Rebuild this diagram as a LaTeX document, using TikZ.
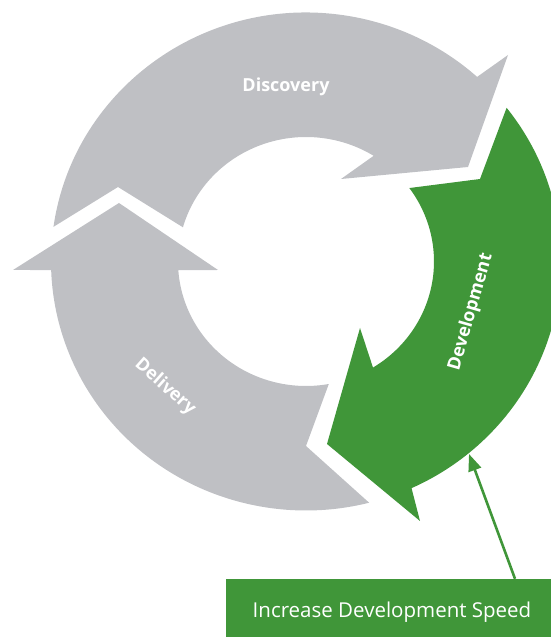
\documentclass[tikz,border=0pt]{standalone}
\usepackage{fontspec}
\setmainfont{Open Sans}
\usetikzlibrary{arrows.meta}

\definecolor{ringgray}{RGB}{191,192,196}
\definecolor{devgreen}{RGB}{64,150,57}

\begin{document}
\begin{tikzpicture}[
  x=1pt, y=1pt,
  graypart/.style={
        fill=ringgray
  },
  greenpart/.style={
        fill=devgreen
  },
  phaselabel/.style={
        text=white,
        font=\fontsize{18}{20}\selectfont\bfseries
  },
  goalbox/.style={
        fill=devgreen,
        text=white,
        inner sep=0pt,
        minimum width=332pt,
        minimum height=66pt,
        font=\fontsize{20.5}{24}\selectfont
  },
  goalarrow/.style={
        draw=devgreen,
        line width=2.6pt,
        -{Triangle[length=17pt,width=13pt]}
  }
]

    \useasboundingbox (0,0) rectangle (551,637);
    \clip (0,0) rectangle (551,637);

    \coordinate (C) at (306,375.5);

    \begin{scope}[shift={(C)}]
      % Discovery
      \path[graypart] (172:255 and 249)
        arc[start angle=172, end angle=47.85, x radius=255, y radius=249]
        -- (202,206.5) -- (162,94.5) -- (35,82.5)
        -- (58.1:128 and 124.5)
        arc[start angle=58.1, end angle=164.05, x radius=128, y radius=124.5]
        -- (-188,74.5) -- cycle;

      % Development
      \path[greenpart] (38.12:255 and 249)
        arc[start angle=38.12, end angle=-65.55, x radius=255, y radius=249]
        -- (114,-259.5) -- (21,-182.5) -- (54,-66.5)
        -- (-58.44:128 and 124.5)
        arc[start angle=-58.44, end angle=36.16, x radius=128, y radius=124.5]
        -- (174,82.5) -- cycle;

      % Delivery
      \path[graypart] (-75.66:255 and 249)
        arc[start angle=-75.66, end angle=-178.04, x radius=255, y radius=249]
        -- (-293,-8.5) -- (-187,58.5) -- (-88,-8.5)
        -- (-176:128 and 124.5)
        arc[start angle=-176, end angle=-79.74, x radius=128, y radius=124.5]
        -- (0,-184.5) -- cycle;

      \node[phaselabel, anchor=base] (discovery) at (-20,169.5) {Discovery};
      \node[phaselabel, rotate=74] (development) at (165,-50.5) {Development};
      \node[phaselabel, rotate=-41.5] (delivery) at (-141,-125.5) {Delivery};
    \end{scope}

    \coordinate (ringedge) at (469,183);
    \node[goalbox] (goal) at (392,25) {Increase Development Speed};

    \draw[goalarrow] ([xshift=123pt]goal.north) -- (ringedge);
\end{tikzpicture}
\end{document}
